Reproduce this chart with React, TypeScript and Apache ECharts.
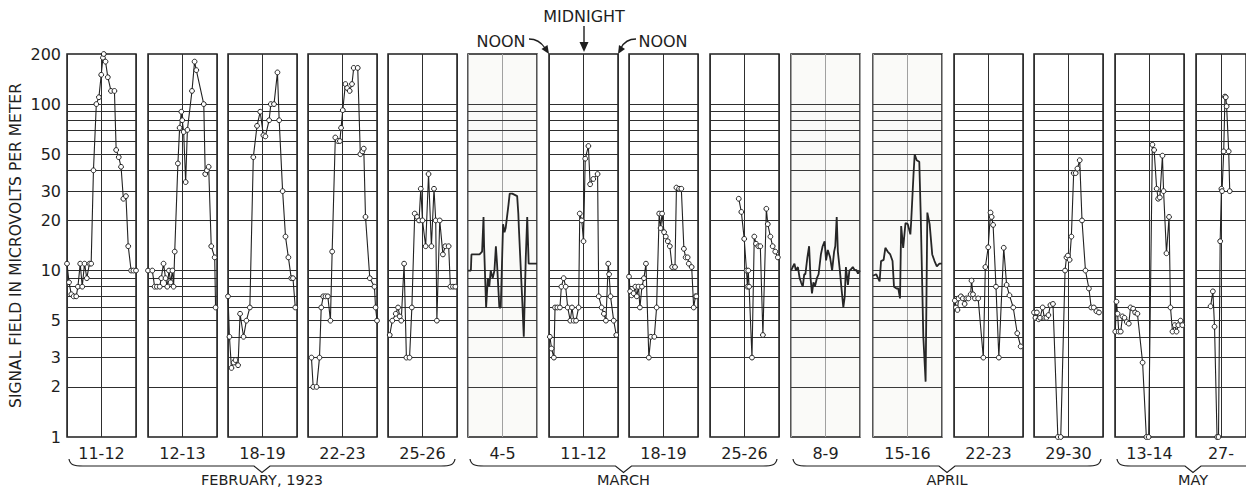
import React, { useEffect, useRef } from "react";
import * as echarts from "echarts";

// ---------- data (hours after noon, microvolts per meter) ----------
const panelLabels = ["11-12", "12-13", "18-19", "22-23", "25-26", "4-5", "11-12", "18-19", "25-26", "8-9", "15-16", "22-23", "29-30", "13-14", "27-"];

const feb11_12 = [[0, 11], [0.7, 8.5], [1.5, 7.2], [2.3, 7], [3.2, 7], [3.8, 8], [4.6, 11], [5.3, 8], [6.1, 11], [6.9, 9], [7.8, 11], [8.4, 11], [9.2, 40], [10.2, 100], [11.1, 110], [11.9, 150], [12.5, 190], [12.8, 200], [13.4, 180], [14.2, 145], [15.3, 120], [16.5, 120], [17.1, 53], [18.0, 48], [18.8, 42], [19.6, 27], [20.5, 28], [21.3, 14], [22.3, 10], [23.1, 10], [24, 10]];
const feb12_13 = [[0, 10], [1.5, 10], [2.3, 8], [3.1, 8], [4.1, 8], [4.6, 9], [5.4, 11], [6.1, 9], [6.7, 8], [7.3, 10], [7.9, 8.5], [8.5, 10], [8.9, 8], [9.3, 13], [10.4, 44], [11.0, 72], [11.6, 90], [11.9, 80], [12.4, 68], [13.1, 34], [13.7, 70], [15.3, 120], [16.2, 180], [16.8, 160], [19.4, 100], [19.9, 38], [20.5, 40], [21.1, 42], [22.0, 14], [23.2, 12], [23.5, 6]];
const feb18_19 = [[0, 7], [0.5, 4], [1.2, 2.6], [2.0, 2.8], [2.6, 2.9], [3.5, 2.7], [4.2, 5.5], [5.4, 4], [6.4, 5], [7.6, 6], [8.8, 48], [10.1, 74], [11.2, 90], [12.3, 65], [13.0, 64], [14.3, 80], [14.9, 100], [16.0, 100], [17.2, 155], [17.8, 80], [19.0, 30], [20.0, 16], [21.0, 12], [22.0, 9], [22.6, 9], [23.4, 6]];
const feb22_23 = [[1.2, 3], [1.8, 2], [3.0, 2], [4.0, 3], [4.6, 6], [5.3, 7], [6.1, 7], [6.9, 7], [7.8, 5], [8.4, 13], [9.5, 63], [10.4, 60], [11.1, 60], [11.5, 72], [12.1, 92], [13.0, 132], [13.6, 125], [14.5, 120], [15.3, 132], [15.9, 165], [17.3, 165], [18.2, 50], [18.9, 52], [19.4, 54], [20.0, 21], [21.5, 9], [23.1, 8], [23.5, 6], [24, 5]];
const feb25_26 = [[0.6, 4.1], [1.5, 5], [2.7, 5.5], [3.5, 6], [4.1, 5.3], [4.6, 5], [5.6, 11], [6.4, 3], [7.5, 3], [8.3, 6], [9.3, 22], [10.1, 21], [10.8, 20], [11.4, 31], [12.0, 20], [13.1, 14], [14.1, 38], [15.1, 14], [16.0, 31], [16.6, 20], [17.0, 5], [18.0, 20], [19.1, 12.5], [19.9, 14], [21.1, 14], [21.7, 8], [22.6, 8], [23.4, 8]];
const mar4_5 = [[0, 10], [1.0, 10], [1.2, 12.5], [4.0, 12.5], [4.9, 13], [5.4, 21], [5.6, 14], [6.3, 6], [6.9, 9], [7.4, 8], [7.9, 10], [8.6, 9], [9.2, 10], [9.7, 14], [10.1, 11], [10.9, 6], [11.4, 6], [12.2, 19], [12.7, 17], [13.1, 18], [14.1, 25], [14.5, 29], [15.4, 29], [17.1, 28], [17.5, 22], [17.7, 18], [18.9, 6.4], [19.4, 4], [20.1, 12], [20.6, 21], [21.1, 11], [22.3, 11], [24, 11]];
const mar11_12 = [[0.3, 4], [0.9, 3.4], [1.7, 3], [2.1, 6], [2.9, 6], [3.8, 6], [4.3, 8], [5.1, 9], [5.8, 8], [6.5, 6], [7.4, 5], [8.0, 6], [8.6, 5], [9.4, 5], [10.3, 6], [10.7, 22], [11.4, 20], [12.0, 15], [12.6, 47], [13.7, 56], [14.3, 33], [15.4, 35.5], [16.9, 38], [17.3, 7], [18.3, 6], [19.1, 5.5], [19.8, 5], [20.6, 11], [20.9, 9.5], [21.4, 7], [22.5, 5], [23.4, 4.1]];
const mar18_19 = [[0, 9.2], [0.4, 7.5], [0.9, 7.1], [1.6, 7.3], [2.2, 8], [2.7, 7], [3.3, 8], [3.8, 6], [4.5, 8], [5.2, 9], [5.9, 11], [6.9, 3], [7.6, 4], [8.8, 4], [9.6, 6], [10.5, 22], [11.0, 18], [11.5, 22], [12.2, 17], [12.8, 16], [13.5, 15], [14.2, 14], [15.0, 10.5], [16.0, 10.5], [16.5, 31.5], [17.4, 31], [18.2, 31], [19.1, 13.5], [19.7, 12], [20.4, 12], [20.8, 11], [21.8, 10.5], [22.5, 6], [23.1, 7], [23.4, 7]];
const mar25_26 = [[10.0, 27], [10.9, 22.5], [11.9, 15.5], [12.7, 10], [13.0, 8], [13.3, 10], [13.6, 8], [14.6, 3], [15.4, 16], [16.0, 14.5], [16.8, 14], [17.5, 14], [18.4, 4.1], [19.6, 23.5], [20.1, 19], [21.0, 16], [21.8, 14], [22.7, 13], [23.6, 12]];
const apr8_9 = [[0, 10], [0.6, 10.5], [1.2, 11], [1.7, 10], [2.4, 10.5], [3.0, 9], [3.5, 8.5], [4.1, 8], [4.6, 9.5], [5.0, 9.5], [5.7, 12], [6.3, 14], [6.8, 9], [7.3, 7.3], [7.8, 8.5], [8.3, 8], [9.0, 9], [9.6, 9.5], [10.4, 12.5], [11.0, 14], [11.7, 15], [12.2, 11.5], [12.8, 13.3], [13.6, 12], [14.3, 10], [15.0, 13], [15.4, 14], [15.9, 21], [16.3, 13], [17.0, 10], [17.5, 8], [18.2, 6], [18.7, 7], [19.1, 10.5], [19.8, 8.2], [20.3, 10], [20.7, 10.1], [21.5, 10.5], [22.2, 10], [22.7, 10.1], [23.3, 9.6], [24, 10]];
const apr15_16 = [[0, 9.3], [1.1, 9.5], [2.3, 8.6], [2.8, 11.4], [3.7, 11.6], [4.3, 13.7], [5.1, 13], [6.0, 12.5], [6.8, 11.4], [7.3, 8], [8.2, 7.8], [8.8, 7.8], [9.4, 6.8], [9.8, 18.5], [10.5, 13.7], [11.3, 19.3], [12.1, 19], [13.0, 16.5], [13.3, 20], [14.1, 38], [14.5, 50], [15.2, 46], [16.1, 45], [16.6, 21.5], [17.5, 4], [18.3, 2.15], [18.9, 22.3], [19.7, 19], [20.6, 12.5], [21.4, 11.4], [22.2, 10.6], [23.1, 11], [24, 11]];
const apr22_23 = [[0.3, 6.6], [0.7, 6], [1.2, 5.8], [1.6, 6.8], [2.4, 7], [3.1, 6.8], [3.7, 6.3], [4.3, 6.8], [5.0, 6.8], [5.8, 7.2], [6.1, 8.7], [6.6, 7.2], [7.3, 6.8], [8.4, 6.8], [10.2, 3], [10.9, 10.5], [11.9, 13.8], [12.7, 22.3], [13.1, 21], [13.6, 18.8], [14.6, 8], [15.6, 3], [17.3, 13.7], [18.3, 8.2], [19.3, 7.1], [20.6, 6], [22.0, 4.2], [23.2, 3.5]];
const apr29_30 = [[0.0, 5.6], [0.5, 5.2], [1.0, 5.6], [1.6, 5.1], [2.1, 5.2], [3.0, 6.0], [3.6, 5.2], [4.3, 5.2], [5.0, 5.4], [5.7, 6.2], [6.6, 6.3], [8.3, 1], [9.3, 1], [10.8, 10], [11.3, 12], [11.8, 12.3], [12.4, 11.6], [13.0, 16], [13.8, 38.5], [14.5, 38.5], [15.1, 41], [15.9, 46], [16.7, 20], [17.9, 10], [19.1, 7.8], [19.9, 6], [20.8, 6], [21.7, 5.7], [22.6, 5.6]];
const may13_14 = [[0.1, 4.3], [0.5, 6.5], [0.9, 5.5], [1.3, 4.3], [2.0, 4.3], [2.6, 5.3], [3.3, 5.2], [4.1, 4.9], [4.8, 4.8], [5.4, 6], [6.3, 5.9], [7.0, 5.6], [7.8, 5.5], [9.6, 2.8], [10.9, 1], [11.7, 1], [13.0, 57], [13.6, 53], [14.5, 31], [15.0, 27], [15.6, 27.5], [16.5, 49], [16.9, 30], [17.9, 12.7], [18.8, 21], [19.3, 6], [20.0, 4.3], [20.8, 4.7], [21.4, 4.3], [22.0, 4.7], [22.8, 5], [23.4, 4.7]];
const may27_28 = [[7.0, 6.1], [8.1, 7.5], [8.9, 4.6], [10.1, 1], [10.8, 1], [11.6, 15], [12.2, 31], [12.5, 30], [13.3, 52], [13.9, 111], [14.3, 110], [14.7, 97], [15.7, 52], [16.2, 30]];

const panelData = [feb11_12, feb12_13, feb18_19, feb22_23, feb25_26, mar4_5, mar11_12, mar18_19, mar25_26, apr8_9, apr15_16, apr22_23, apr29_30, may13_14, may27_28];
const tracePanels = [5, 9, 10]; // continuous recorder traces, no plotted points

const gridValues = [2, 3, 4, 5, 6, 7, 8, 9, 10, 20, 30, 40, 50, 60, 70, 80, 90, 100];
const yTickLabels = [1, 2, 3, 5, 10, 20, 30, 50, 100, 200];

const monthNames = ["FEBRUARY, 1923", "MARCH", "APRIL", "MAY"];
const monthFirstPanel = [0, 5, 9, 13];
const monthLastPanel = [4, 8, 12, 14];

// ---------- layout ----------
const PANEL_LEFT = [67, 148, 228, 308, 388, 468, 549, 629, 710, 791, 873, 954, 1034, 1115, 1196];
const PANEL_W = 69;
const TOP = 54;
const H = 383;
const FONT = "DejaVu Sans";
const INK = "#1e1e1e";

function bracket(x0: number, x1: number, c: number, clipRight: boolean) {
  const yTip = 459, yLine = 466, yV = 472.5;
  const els: any[] = [];
  const st = { stroke: INK, lineWidth: 1.2, fill: null };
  els.push({ type: "bezierCurve", shape: { x1: x0, y1: yTip, cpx1: x0 + 1, cpy1: yLine - 1, cpx2: x0 + 5, cpy2: yLine, x2: x0 + 14, y2: yLine }, style: st });
  els.push({ type: "polyline", shape: { points: [[x0 + 14, yLine], [c - 8, yLine], [c, yV], [c + 8, yLine], [clipRight ? x1 : x1 - 14, yLine]] }, style: st });
  if (!clipRight) {
    els.push({ type: "bezierCurve", shape: { x1: x1 - 14, y1: yLine, cpx1: x1 - 5, cpy1: yLine, cpx2: x1 - 1, cpy2: yLine - 1, x2: x1, y2: yTip }, style: st });
  }
  return els;
}

function txt(text: string, x: number, y: number, size: number, align = "center") {
  return {
    type: "text",
    style: { text, x, y, fontSize: size, fontFamily: FONT, fill: INK, align, verticalAlign: "middle", textAlign: align, textVerticalAlign: "middle" },
  };
}

export default function App() {
  const ref = useRef<HTMLDivElement>(null);
  useEffect(() => {
    if (!ref.current) return;
    const chart = echarts.init(ref.current, undefined, { renderer: "svg" });

    const grids = PANEL_LEFT.map((l, i) => ({
      left: l, top: TOP, width: PANEL_W, height: H, show: true,
      borderColor: INK, borderWidth: 1.5,
      backgroundColor: tracePanels.includes(i) ? "#fafaf8" : "#ffffff",
      containLabel: false,
    }));

    const xAxes = PANEL_LEFT.map((_, i) => ({
      type: "value", gridIndex: i, min: 0, max: 24, interval: 12,
      axisLine: { show: false }, axisTick: { show: false }, axisLabel: { show: false },
      splitLine: { show: true, lineStyle: { color: tracePanels.includes(i) ? "#a0a0a0" : "#2e2e2e", width: 1 } },
      name: panelLabels[i], nameLocation: "middle", nameGap: 8,
      nameTextStyle: { fontFamily: FONT, fontSize: 16, color: INK, verticalAlign: "top" },
    }));

    const yAxes = PANEL_LEFT.map((_, i) => ({
      type: "log", logBase: 10, gridIndex: i, min: 1, max: 200,
      axisLine: { show: false }, axisTick: { show: false }, splitLine: { show: false },
      axisLabel: i === 0
        ? { show: true, customValues: yTickLabels, fontSize: 16, fontFamily: FONT, color: INK, margin: 6, showMinLabel: true, showMaxLabel: true }
        : { show: false },
      name: i === 0 ? "SIGNAL FIELD IN MICROVOLTS PER METER" : "",
      nameLocation: "middle", nameRotate: 90, nameGap: 43,
      nameTextStyle: { fontFamily: FONT, fontSize: 15.5, color: INK },
    }));

    const series = panelData.map((d, i) => {
      const trace = tracePanels.includes(i);
      return {
        type: "line", xAxisIndex: i, yAxisIndex: i, data: d,
        showSymbol: !trace, symbol: "circle", symbolSize: 4.8,
        itemStyle: { color: "#ffffff", borderColor: "#222", borderWidth: 1 },
        lineStyle: { color: trace ? "#262626" : "#222", width: trace ? 1.8 : 1.1 },
        clip: true, z: 3, silent: true,
        markLine: {
          silent: true, symbol: ["none", "none"], label: { show: false }, z: 1,
          lineStyle: { color: trace ? "#3a3a3a" : "#2e2e2e", width: 1, type: "solid" },
          emphasis: { disabled: true },
          data: gridValues.map((v) => ({ yAxis: v })),
        },
      };
    });

    const graphic: any[] = [];
    monthNames.forEach((m, k) => {
      const x0 = PANEL_LEFT[monthFirstPanel[k]] + 2;
      const clipRight = k === monthNames.length - 1;
      const x1 = clipRight ? 1246 : PANEL_LEFT[monthLastPanel[k]] + PANEL_W - 2;
      const c = clipRight ? 1193 : (PANEL_LEFT[monthFirstPanel[k]] + PANEL_LEFT[monthLastPanel[k]] + PANEL_W) / 2;
      graphic.push(...bracket(x0, x1, c, clipRight));
      graphic.push(txt(m, c, 480, 14.5));
    });

    // top annotations
    graphic.push(txt("MIDNIGHT", 584, 16, 16));
    graphic.push(txt("NOON", 501, 41, 16));
    graphic.push(txt("NOON", 663, 41, 16));
    graphic.push({ type: "line", shape: { x1: 584, y1: 26, x2: 584, y2: 45 }, style: { stroke: INK, lineWidth: 1.4 } });
    graphic.push({ type: "polygon", shape: { points: [[579.5, 42], [588.5, 42], [584, 52]] }, style: { fill: INK } });
    graphic.push({ type: "bezierCurve", shape: { x1: 529, y1: 39, cpx1: 536, cpy1: 39, cpx2: 541, cpy2: 42, x2: 545, y2: 48 }, style: { stroke: INK, lineWidth: 1.3, fill: null } });
    graphic.push({ type: "polygon", shape: { points: [[549, 54], [541.5, 49], [547.5, 45]] }, style: { fill: INK } });
    graphic.push({ type: "bezierCurve", shape: { x1: 636, y1: 39, cpx1: 629, cpy1: 39, cpx2: 624, cpy2: 42, x2: 621, y2: 48 }, style: { stroke: INK, lineWidth: 1.3, fill: null } });
    graphic.push({ type: "polygon", shape: { points: [[618, 54], [619, 45], [625, 49]] }, style: { fill: INK } });

    chart.setOption({
      animation: false,
      backgroundColor: "#ffffff",
      grid: grids,
      xAxis: xAxes,
      yAxis: yAxes,
      series,
      graphic,
    });
    return () => chart.dispose();
  }, []);
  return <div ref={ref} style={{ position: "fixed", left: 0, top: 0, width: 1246, height: 489 }} />;
}
